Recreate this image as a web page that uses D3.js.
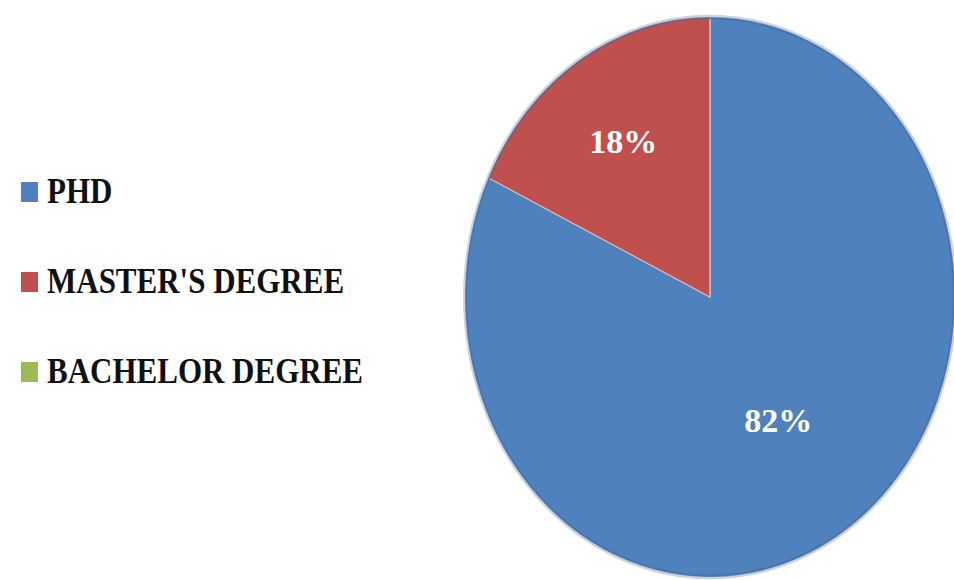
<html>
<head>
    <title>Degree share</title>
    <script src="https://d3js.org/d3.v7.min.js"></script>
    <style>
        body { margin:0; background:#fff; }
        text.legend { font-family:"Liberation Serif", serif; font-weight:bold; font-size:31px; fill:#111; }
        text.pct { font-family:"Liberation Serif", serif; font-weight:bold; font-size:34px; fill:#fff; }
    </style>
</head>
<body>
    <svg id="chart" width="954" height="580"></svg>
    <script>
        var categories = ["PHD", "MASTER'S DEGREE", "BACHELOR DEGREE"];
        var values = [82, 18, 0];
        var colors = ["#4f81bd", "#c0504d", "#9bbb59"];
        var pctLabels = ["82%", "18%", ""];

        var svg = d3.select("#chart");
        // the source picture is stretched vertically, so draw everything in a scaled group
        var sy = 1.143;
        var g = svg.append("g").attr("transform", "scale(1," + sy + ")");

        var radius = 245;
        var cx = 710, cy = 297 / sy;

        var pie = d3.pie().sort(null).value(function(d){ return d; });
        var arc = d3.arc().innerRadius(0).outerRadius(radius);
        var arcs = pie(values);

        var pieG = g.append("g").attr("transform", "translate(" + cx + "," + cy + ")");

        // soft outer edge
        pieG.append("circle")
            .attr("r", radius + 1)
            .style("fill", "none")
            .style("stroke", "#c9d3e0")
            .style("stroke-width", 2);

        pieG.selectAll("path.slice").data(arcs).enter().append("path")
            .attr("class", "slice")
            .attr("d", arc)
            .style("fill", function(d, i){ return colors[i]; })
            .style("stroke", "#e6d0d0")
            .style("stroke-width", 1)
            .style("stroke-opacity", 0.7);

        pieG.append("circle")
            .attr("r", radius - 1)
            .style("fill", "none")
            .style("stroke", "#3d6ea8")
            .style("stroke-opacity", 0.6)
            .style("stroke-width", 2);

        var labelR = [0.52, 0.66, 0.6];
        pieG.selectAll("text.pct").data(arcs).enter().append("text")
            .attr("class", "pct")
            .attr("text-anchor", "middle")
            .attr("transform", function(d, i){
                var a = d3.arc().innerRadius(0).outerRadius(radius * labelR[i] * 2);
                var c = a.centroid(d);
                return "translate(" + c[0] + "," + c[1] + ") scale(1," + (1 / sy).toFixed(3) + ")";
            })
            .attr("dy", "0.35em")
            .text(function(d, i){ return pctLabels[i]; });

        // legend
        var legendY = d3.scalePoint().domain(categories).range([203, 383]);
        var lg = svg.append("g");
        categories.forEach(function(c, i){
            lg.append("rect")
                .attr("x", 21)
                .attr("y", legendY(c) - 21)
                .attr("width", 17)
                .attr("height", 20)
                .style("fill", colors[i]);
            lg.append("text")
                .attr("class", "legend")
                .attr("x", 47)
                .attr("y", legendY(c))
                .attr("transform", "translate(0," + legendY(c) + ") scale(1," + sy + ") translate(0," + (-legendY(c)) + ")")
                .text(c);
        });
    </script>
</body>
</html>
